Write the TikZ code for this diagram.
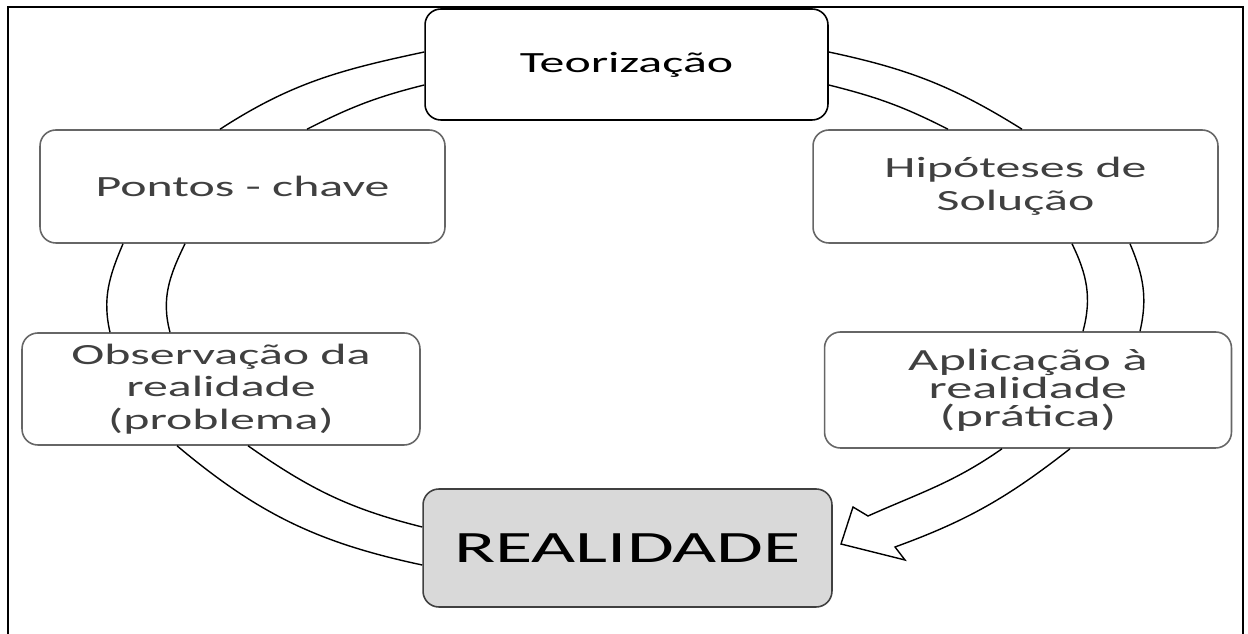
\documentclass[tikz,border=0pt]{standalone}
\usepackage{fontspec}
\newfontfamily\arco{Carlito}[FakeStretch=1.7]
\usetikzlibrary{calc}
\tikzset{etapa/.style={draw=black!60,line width=0.9pt,rounded corners=9pt,minimum width=8.1cm,minimum height=2.26cm,align=center,text=black!75,font=\arco\fontsize{16.7}{18.5}\selectfont}}
\tikzset{elo/.style={line width=0.8pt}}

\begin{document}
\begin{tikzpicture}[x=0.02cm,y=-0.02cm]
\useasboundingbox (0,0) rectangle (1248,634);
\draw[line width=1.4pt] (8,640) -- (8,7) -- (1243,7) -- (1243,640);

\node[etapa,draw=black,text=black,minimum width=8.06cm,minimum height=2.22cm] (teor) at (626.5,64.5) {Teorização};
\node[etapa] (pontos) at (242.5,186.5) {Pontos - chave};
\node[etapa] (hip) at (1015.5,186.5) {Hipóteses de\\Solução};
\node[etapa,minimum width=7.96cm,minimum height=2.24cm] (obs) at (221,389) {Observação da\\realidade\\(problema)};
\node[etapa,minimum width=8.14cm,minimum height=2.32cm,font=\arco\fontsize{17.5}{16}\selectfont] (apl) at (1028,390) {Aplicação à\\realidade\\(prática)};
\node[etapa,draw=black!75,fill=black!15,text=black,minimum width=8.18cm,minimum height=2.36cm,font=\arco\fontsize{25.5}{28}\selectfont] (real) at (627.5,548) {REALIDADE};

\draw[elo] (teor.west |- 0,52) to[out=192,in=33] (pontos.north -| 220,0);
\draw[elo] (teor.west |- 0,85) to[out=194,in=27] (pontos.north -| 307,0);
\draw[elo] (teor.east |- 0,52) to[out=-12,in=148] (hip.north -| 1022,0);
\draw[elo] (teor.east |- 0,85) to[out=-14,in=153] (hip.north -| 948,0);
\draw[elo] (pontos.south -| 123,0) to[out=247,in=103] (obs.north -| 110,0);
\draw[elo] (pontos.south -| 185,0) to[out=244,in=105] (obs.north -| 170,0);
\draw[elo] (hip.south -| 1130,0) to[out=293,in=77] (apl.north -| 1140,0);
\draw[elo] (hip.south -| 1072,0) to[out=296,in=75] (apl.north -| 1083,0);
\draw[elo] (obs.south -| 177,0) to[out=320,in=168] (real.west |- 0,565);
\draw[elo] (obs.south -| 248,0) to[out=325,in=166] (real.west |- 0,527);
\draw[elo] (apl.south -| 1002,0) to[out=215,in=24] (868,516) -- (853,507) -- (841,544) -- (905,560) -- (895,547) to[out=20,in=218] (apl.south -| 1070,0);
\end{tikzpicture}
\end{document}
